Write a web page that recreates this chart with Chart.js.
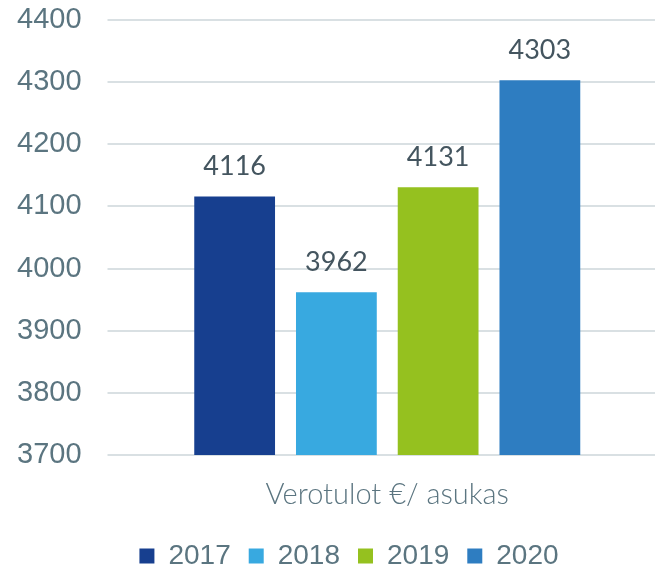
<!DOCTYPE html>
<html>
<head>
<meta charset="utf-8">
<script src="https://cdn.jsdelivr.net/npm/chart.js@4"></script>
<style>
  html, body { margin: 0; padding: 0; background: #fff; }
  #wrap { width: 659px; height: 569px; }
</style>
</head>
<body>
<div id="wrap"><canvas id="chart" width="659" height="569"></canvas></div>
<script>
var categories = ['Verotulot €/ asukas'];
var years = ['2017', '2018', '2019', '2020'];
var values = [4116, 3962, 4131, 4303];
var colors = ['#173F8F', '#38A9E0', '#95C11F', '#2E7DC1'];

var textColor = '#5B7580';

// labels above the bars
var valueLabels = {
  id: 'valueLabels',
  afterLayout: function(chart) {
    // legend sits a bit right of centre in the original
    chart.legend.left += 26;
    chart.legend.right += 26;
    chart.legend.top -= 11;
    chart.legend.bottom -= 11;
  },
  afterDatasetsDraw: function(chart) {
    var ctx = chart.ctx;
    ctx.save();
    ctx.font = '27px Lato';
    ctx.fillStyle = '#44555F';
    ctx.textAlign = 'center';
    ctx.textBaseline = 'middle';
    chart.data.datasets.forEach(function(ds, i) {
      chart.getDatasetMeta(i).data.forEach(function(bar, j) {
        ctx.fillText(ds.data[j], bar.x, bar.y - 30);
      });
    });
    ctx.restore();
  }
};

var datasets = years.map(function(y, i) {
  return {
    label: y,
    data: [values[i]],
    backgroundColor: colors[i],
    borderWidth: 0,
    categoryPercentage: 0.76,
    barPercentage: 0.794
  };
});

function noPad(scale) {
  scale.paddingTop = 0;
  scale.paddingBottom = 0;
  scale.paddingLeft = 0;
  scale.paddingRight = 0;
}

new Chart(document.getElementById('chart').getContext('2d'), {
  type: 'bar',
  data: { labels: categories, datasets: datasets },
  plugins: [valueLabels],
  options: {
    responsive: false,
    animation: false,
    layout: { padding: { left: -9, right: 4, top: 20, bottom: -22 } },
    plugins: {
      tooltip: { enabled: false },
      legend: {
        position: 'bottom',
        labels: {
          boxWidth: 15,
          boxHeight: 15,
          padding: 18,
          color: textColor,
          font: { family: 'Liberation Sans', size: 28 }
        }
      }
    },
    scales: {
      x: {
        afterFit: noPad,
        grid: { display: false, drawTicks: false },
        border: { display: false },
        ticks: { color: textColor, padding: 29, font: { family: 'Lato', weight: 300, size: 29, lineHeight: 0.76 } }
      },
      y: {
        afterFit: noPad,
        min: 3700,
        max: 4400,
        grid: { color: '#D9E0E3', lineWidth: 2, tickLength: 12 },
        border: { display: false },
        ticks: {
          stepSize: 100,
          color: textColor,
          padding: 26,
          font: { family: 'Liberation Sans', size: 29 },
          callback: function(v) { return String(v); }
        }
      }
    }
  }
});
</script>
</body>
</html>
